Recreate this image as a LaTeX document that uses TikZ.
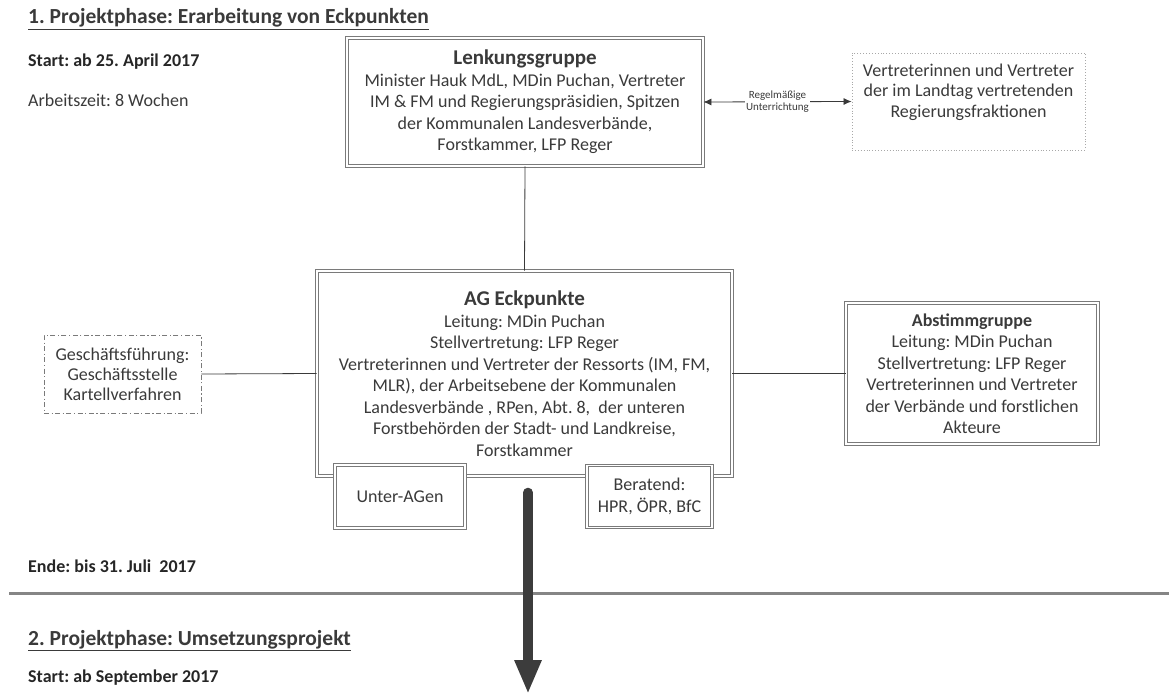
\documentclass[tikz,border=0pt]{standalone}
\usepackage{fontspec}
\setmainfont{Carlito}
\usetikzlibrary{arrows.meta}
\definecolor{txtc}{HTML}{3A3A3A}
\definecolor{boxgray}{HTML}{7A7A7A}
\definecolor{dotgray}{HTML}{A8A8A8}
\definecolor{arrowc}{HTML}{3C3C3C}
\definecolor{sepgray}{HTML}{858585}
\tikzset{
  dbox/.style={draw=boxgray, double=white, double distance=1.4pt, line width=0.9pt,
    fill=white, align=center, inner sep=0pt, text=txtc,
    font=\fontsize{18}{21.5}\selectfont},
  dotbox/.style={draw=dotgray, dotted, line width=0.9pt, inner sep=0pt},
  dashdotbox/.style={draw=boxgray, dash pattern=on 5pt off 2.5pt on 1.2pt off 2.5pt,
    line width=0.8pt, align=center, inner sep=0pt, text=txtc,
    font=\fontsize{18}{20}\selectfont},
  plaintext/.style={align=center, inner sep=0pt, text=txtc,
    font=\fontsize{18}{20.5}\selectfont},
  conn/.style={draw=txtc, line width=0.8pt},
  dblarrow/.style={draw=txtc, line width=0.8pt, {Latex[length=8pt,width=7pt]}-{Latex[length=8pt,width=7pt]}},
  bigarrow/.style={draw=arrowc, line width=9.5pt, line cap=round,
    -{Triangle[length=34pt,width=25pt]}},
  sepline/.style={draw=sepgray, line width=3pt},
  headtxt/.style={anchor=base west, inner sep=0pt, text=txtc,
    font=\fontsize{21.5}{24}\selectfont\bfseries},
  sidetxt/.style={anchor=base west, inner sep=0pt, text=txtc,
    font=\fontsize{18}{20}\selectfont},
  sidebold/.style={sidetxt, text=black!85, font=\fontsize{18}{20}\selectfont\bfseries},
}
\newcommand{\bigtitle}[1]{{\fontsize{21}{23}\selectfont\bfseries #1}}
\begin{document}
\frenchspacing
\begin{tikzpicture}[x=1pt,y=-1pt]
\useasboundingbox (0,0) rectangle (1169,695);

% phase texts
\node[headtxt] (h1) at (28,24) {\underline{1. Projektphase: Erarbeitung von Eckpunkten}};
\node[sidebold] (s1) at (28,67) {Start: ab 25. April 2017};
\node[sidetxt] (a1) at (28,107) {Arbeitszeit: 8 Wochen};
\node[sidebold] (e1) at (28,572) {Ende: bis 31. Juli\ \ 2017};
\node[headtxt] (h2) at (28,645) {\underline{2. Projektphase: Umsetzungsprojekt}};
\node[sidebold] (s2) at (28,682) {Start: ab September 2017};

% separator
\coordinate (sepL) at (9,593);
\coordinate (sepR) at (1169,593);
\draw[sepline] (sepL) -- (sepR);

% Lenkungsgruppe
\node[dbox, minimum width=356, minimum height=128] (lg) at (525,102)
  {\bigtitle{Lenkungsgruppe}\\
   Minister Hauk MdL, MDin Puchan, Vertreter\\
   IM \& FM und Regierungspräsidien, Spitzen\\
   der Kommunalen Landesverbände,\\
   Forstkammer, LFP Reger};

% Regierungsfraktionen (dotted)
\node[dotbox, minimum width=233, minimum height=97] (vt) at (968.5,101.5) {};
\node[plaintext] (vtt) at (968.5,92)
  {Vertreterinnen und Vertreter\\
   der im Landtag vertretenden\\
   Regierungsfraktionen};

% double arrow
\draw[dblarrow] (lg.east) -- node[fill=white, inner sep=1.5pt, align=center, text=txtc,
  font=\fontsize{11}{12}\selectfont] (lbl) {Regelmäßige\\Unterrichtung} (vt.west);

% AG Eckpunkte
\node[dbox, minimum width=415, minimum height=205] (ag) at (524.5,373.5)
  {\bigtitle{AG Eckpunkte}\\
   Leitung: MDin Puchan\\
   Stellvertretung: LFP Reger\\
   Vertreterinnen und Vertreter der Ressorts (IM, FM,\\
   MLR), der Arbeitsebene der Kommunalen\\
   Landesverbände , RPen, Abt. 8,\ \ der unteren\\
   Forstbehörden der Stadt- und Landkreise,\\
   Forstkammer};

\draw[conn] (lg.south) -- (ag.north);

% Geschäftsführung
\node[dashdotbox, minimum width=157, minimum height=78] (gf) at (122.5,374)
  {Geschäftsführung:\\ Geschäftsstelle\\ Kartellverfahren};
\draw[conn] (gf.east) -- (ag.west);

% Abstimmgruppe
\node[dbox, minimum width=252, minimum height=141] (ab) at (972,373.5)
  {{\bfseries Abstimmgruppe}\\
   Leitung: MDin Puchan\\
   Stellvertretung: LFP Reger\\
   Vertreterinnen und Vertreter\\
   der Verbände und forstlichen\\
   Akteure};
\draw[conn] (ag.east) -- (ab.west);

% sub boxes
\node[dbox, minimum width=130, minimum height=63] (ua) at (400,496.5) {Unter-AGen};
\node[dbox, minimum width=125, minimum height=62] (be) at (649.5,496.5) {Beratend:\\ HPR, ÖPR, BfC};

% big arrow
\coordinate (arrEnd) at (528,694);
\draw[bigarrow] ([xshift=3.5pt,yshift=-16pt]ag.south) -- (arrEnd);
\end{tikzpicture}
\end{document}
